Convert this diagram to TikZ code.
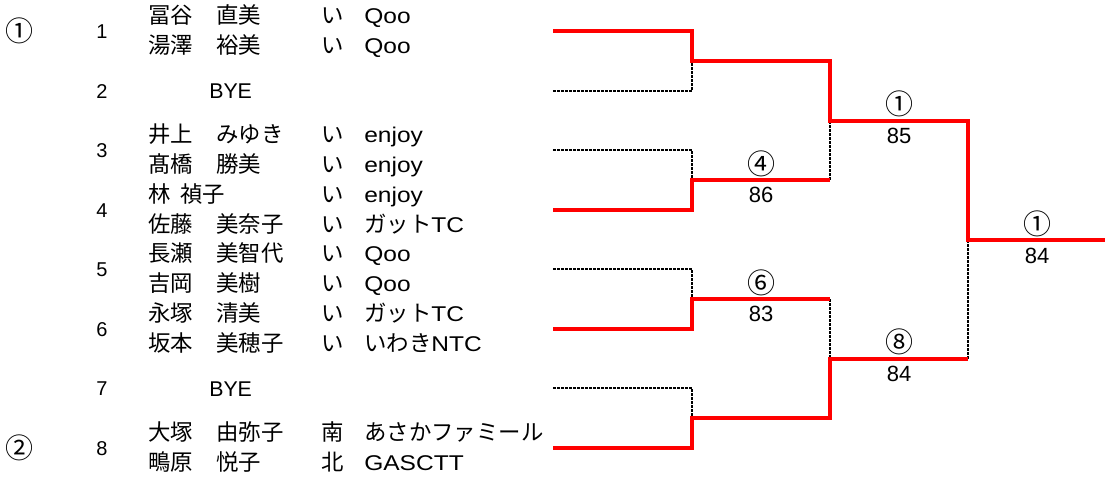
\documentclass[tikz,border=0pt]{standalone}
\usepackage{fontspec}
\setmainfont{Liberation Sans}
\newfontfamily\jp{Noto Sans CJK JP}
\newfontfamily\clubfont{Liberation Sans}[FakeStretch=1.15]
\usetikzlibrary{calc}
\newcommand{\wincolor}{red}
\newcommand{\losecolor}{black}
\newcommand{\linethick}{3.3pt}
\newcommand{\dotthick}{2.2pt}
\newcommand{\txtsize}{\fontsize{16}{18}\selectfont}
\newcommand{\jpsize}{\fontsize{16.8}{18}\selectfont}

\tikzset{
  txt/.style={anchor=west, inner sep=0pt, text height=12pt, text depth=1pt, font=\txtsize},
  num/.style={inner sep=0pt, text height=12pt, text depth=1pt, font=\fontsize{15}{17}\selectfont},
  seed/.style={inner sep=0pt, font=\fontsize{21}{23}\selectfont\jp},
  lab/.style={inner sep=0pt, text height=12pt, text depth=1pt, font=\fontsize{16.5}{18}\selectfont},
  win/.style={\wincolor, line width=\linethick},
  lose/.style={\losecolor, line width=\dotthick, dash pattern=on 2.2pt off 0.8pt}
}

\begin{document}
\begin{tikzpicture}[x=0.75pt, y=-0.75pt]
\useasboundingbox (0,0) rectangle (1105,482);
% seeds
\node[seed] (seed1) at (20,31) {①};
\node[seed] (seed2) at (20,448) {②};
% draw numbers
\foreach \k/\y in {1/31,2/91,3/150,4/210,5/269,6/329,7/388,8/448}
  \node[num] (n\k) at (102,\y) {\k};
% players
\foreach \y/\sur/\giv/\gx/\pf/\cl [count=\i] in {
  16/冨谷/直美/216/い/Qoo,
  46/湯澤/裕美/216/い/Qoo,
  135/井上/みゆき/216/い/enjoy,
  165/髙橋/勝美/216/い/enjoy,
  195/林/禎子/180/い/enjoy,
  225/佐藤/美奈子/216/い/{{\jp\jpsize ガット}TC},
  254/長瀬/美智代/216/い/Qoo,
  284/吉岡/美樹/216/い/Qoo,
  314/永塚/清美/216/い/{{\jp\jpsize ガット}TC},
  344/坂本/美穂子/216/い/{{\jp\jpsize いわき}NTC},
  433/大塚/由弥子/216/南/{{\jp\jpsize あさかファミール}},
  463/鴫原/悦子/216/北/GASCTT}{
  \node[txt, font=\jpsize\jp] (sur\i) at (148,\y) {\sur};
  \node[txt, font=\jpsize\jp] (giv\i) at (\gx,\y) {\giv};
  \node[txt, font=\jpsize\jp] (pf\i) at (321,\y) {\pf};
  \node[txt, font=\txtsize\clubfont] (cl\i) at (364,\y) {\cl};
}
\node[txt] (bye2) at (209,91) {BYE};
\node[txt] (bye7) at (209,389) {BYE};

% bracket points
\coordinate (e1) at (553,31);
\coordinate (e2) at (553,91);
\coordinate (e3) at (553,150);
\coordinate (e4) at (553,210);
\coordinate (e5) at (553,269);
\coordinate (e6) at (553,329);
\coordinate (e7) at (553,388);
\coordinate (e8) at (553,448);
\coordinate (r1) at (692,61);
\coordinate (r2) at (692,180);
\coordinate (r3) at (692,299);
\coordinate (r4) at (692,418);
\coordinate (s1) at (830,121);
\coordinate (s2) at (830,359);
\coordinate (f) at (968,240);
\coordinate (w) at (1105,240);

% losers
\draw[lose] (e2) -| (r1);
\draw[lose] (e3) -| (r2);
\draw[lose] (e5) -| (r3);
\draw[lose] (e7) -| (r4);
\draw[lose] (r2 -| s1) -- (s1);
\draw[lose] (r3 -| s2) -- (s2);
\draw[lose] (s2 -| f) -- (f);
% winners
\draw[win] (e1) -| (r1) -| (s1) -| (f) -- (w);
\draw[win] (e4) -| (r2) -- (r2 -| s1);
\draw[win] (e6) -| (r3) -- (r3 -| s2);
\draw[win] (e8) -| (r4) -| (s2) -- (s2 -| f);

% scores
\node[seed] (w2) at (761,164) {④};
\node[lab] (sc2) at (761,195) {86};
\node[seed] (w3) at (761,283) {⑥};
\node[lab] (sc3) at (761,314) {83};
\node[seed] (ws1) at (899,104) {①};
\node[lab] (scs1) at (899,136) {85};
\node[seed] (ws2) at (899,342) {⑧};
\node[lab] (scs2) at (899,374) {84};
\node[seed] (wf) at (1037,224) {①};
\node[lab] (scf) at (1037,256) {84};
\end{tikzpicture}
\end{document}
